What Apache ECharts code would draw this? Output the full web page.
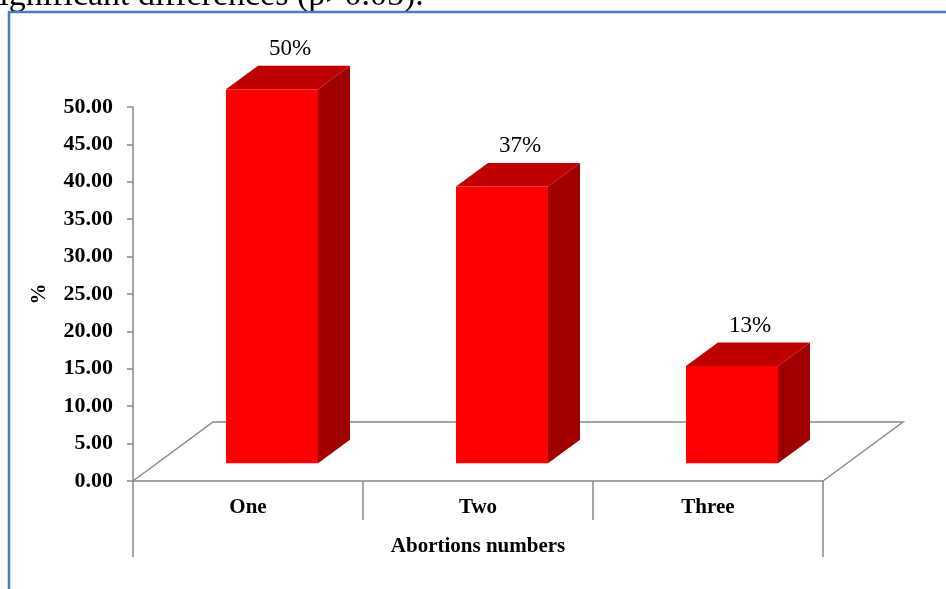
<!DOCTYPE html>
<html><head><meta charset="utf-8">
<script src="https://cdn.jsdelivr.net/npm/echarts@6/dist/echarts.min.js"></script>
<style>html,body{margin:0;padding:0;background:#fff;overflow:hidden}#c{width:946px;height:589px}</style>
</head><body><div id="c"></div>
<script>
// ---- data ----
const categories = ['One', 'Two', 'Three'];
const values = [50, 37, 13];
const yMin = 0, yMax = 50, yStep = 5;
const xTitle = 'Abortions numbers';
const yTitle = '%';
const captionText = 'significant differences (p>0.05).';

// ---- style / geometry ----
const SERIF = '"Liberation Serif", "Times New Roman", serif';
const GRAY = '#898989';
const FLOOR_DX = 80, FLOOR_DY = -59;      // 3D floor depth vector
const BAR_FRONT = 0.3, BAR_DEPTH = 0.4;    // fraction of floor depth
const BAR_WIDTH = 0.4;                     // fraction of category band

const chart = echarts.init(document.getElementById('c'), null, {renderer: 'canvas'});

function renderFloor(params, api) {
  const cs = params.coordSys;
  const x0 = cs.x, x1 = cs.x + cs.width, y0 = cs.y + cs.height;
  return {
    type: 'polyline', silent: true,
    shape: {points: [[x0, y0], [x0 + FLOOR_DX, y0 + FLOOR_DY], [x1 + FLOOR_DX, y0 + FLOOR_DY], [x1, y0]]},
    style: {stroke: GRAY, lineWidth: 1.5, fill: 'none'}
  };
}

function renderBar(params, api) {
  const i = api.value(0), v = api.value(1);
  const base = api.coord([i, 0]);
  const top = api.coord([i, v]);
  const bw = api.size([1, 0])[0] * BAR_WIDTH;
  const ox = FLOOR_DX * BAR_FRONT, oy = FLOOR_DY * BAR_FRONT;
  const dx = FLOOR_DX * BAR_DEPTH, dy = FLOOR_DY * BAR_DEPTH;
  const L = base[0] + ox - bw / 2, R = L + bw;
  const yb = base[1] + oy, yt = top[1] + oy;
  return {
    type: 'group',
    children: [
      {type: 'polygon', shape: {points: [[R, yt], [R + dx, yt + dy], [R + dx, yb + dy], [R, yb]]}, style: {fill: '#A00000'}},
      {type: 'polygon', shape: {points: [[L, yt], [R, yt], [R + dx, yt + dy], [L + dx, yt + dy]]}, style: {fill: '#C00000'}},
      {type: 'rect', shape: {x: L, y: yt, width: bw, height: yb - yt}, style: {fill: '#FF0000'}},
      {type: 'text', x: L + bw / 2 + dx / 2 + 2, y: yt + dy - 17,
        style: {text: Math.round(v) + '%', font: '23px ' + SERIF, fill: '#000', align: 'center', verticalAlign: 'middle'}}
    ]
  };
}

const option = {
  animation: false,
  backgroundColor: '#fff',
  grid: {left: 133, right: 123, top: 107, bottom: 108},
  xAxis: [
    {
      type: 'category', data: categories, position: 'bottom',
      axisLine: {show: true, lineStyle: {color: GRAY, width: 1.5}},
      axisTick: {show: true, length: 39, alignWithLabel: false, interval: 0, lineStyle: {color: GRAY, width: 1.5}},
      axisLabel: {margin: 16, color: '#000', fontFamily: SERIF, fontWeight: 'bold', fontSize: 21},
      splitLine: {show: false}
    },
    {
      type: 'category', data: [''], position: 'bottom', offset: 39,
      axisLine: {show: false},
      axisTick: {show: true, length: 37, interval: 0, lineStyle: {color: GRAY, width: 1.5}},
      axisLabel: {show: false},
      splitLine: {show: false},
      name: xTitle, nameLocation: 'middle', nameGap: 16,
      nameTextStyle: {color: '#000', fontFamily: SERIF, fontWeight: 'bold', fontSize: 21}
    }
  ],
  yAxis: {
    type: 'value', min: yMin, max: yMax, interval: yStep,
    axisLine: {show: true, lineStyle: {color: GRAY, width: 1.5}},
    axisTick: {show: true, length: 6, lineStyle: {color: GRAY, width: 1.5}},
    splitLine: {show: false},
    axisLabel: {margin: 20, color: '#000', fontFamily: SERIF, fontWeight: 'bold', fontSize: 22,
      formatter: v => v.toFixed(2)},
    name: yTitle, nameLocation: 'middle', nameGap: 83, nameRotate: 90,
    nameTextStyle: {color: '#000', fontFamily: SERIF, fontWeight: 'bold', fontSize: 21}
  },
  series: [
    {type: 'custom', renderItem: renderFloor, data: [[0, 0]], encode: {x: 0, y: 1}, z: 1, silent: true},
    {type: 'custom', renderItem: renderBar, data: values.map((v, i) => [i, v]), encode: {x: 0, y: 1}, z: 2}
  ],
  graphic: [
    {type: 'text', z: -20, x: -14, y: -3.5, silent: true,
      style: {text: captionText, font: '34px ' + SERIF, fill: '#000', verticalAlign: 'middle'}},
    {type: 'rect', z: -10, silent: true, shape: {x: 9, y: 12, width: 2000, height: 2000},
      style: {fill: '#fff', stroke: '#4A7EBB', lineWidth: 2.5}}
  ]
};
chart.setOption(option);
</script></body></html>
